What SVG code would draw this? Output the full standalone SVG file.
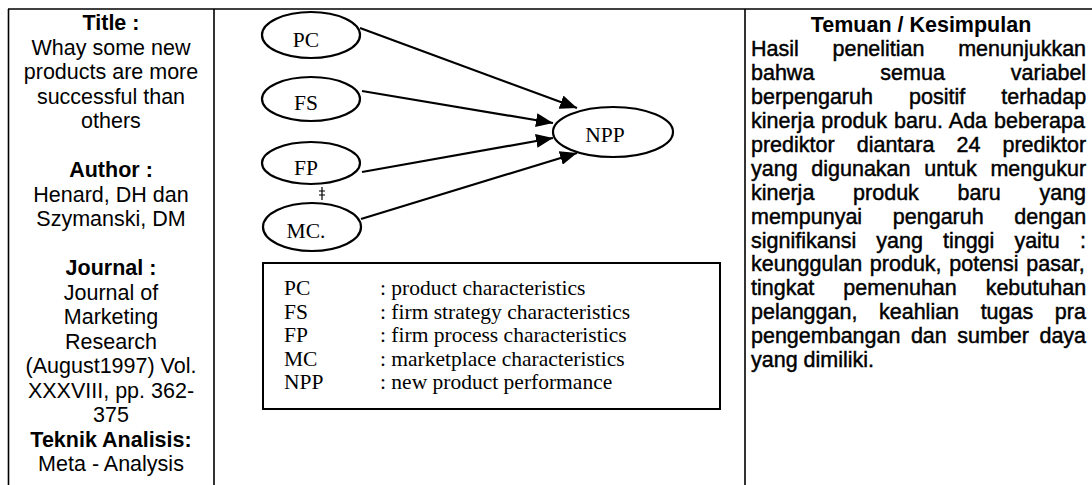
<svg xmlns="http://www.w3.org/2000/svg" width="1092" height="485" viewBox="0 0 1092 485">
  <style>
    .rule { stroke: #000; stroke-width: 1.6; fill: none; }
    .sans { font-family: "Liberation Sans", Arial, sans-serif; font-size: 21.5px; fill: #000; }
    .hd { font-weight: bold; }
    .mid { text-anchor: middle; }
    .body { font-family: "Liberation Sans", Arial, sans-serif; font-size: 21.5px; fill: #000; stroke: #000; stroke-width: 0.45; }
    .node ellipse { fill: #fff; stroke: #000; stroke-width: 2.2; }
    .serif { font-family: "Liberation Serif", "Times New Roman", serif; font-size: 21.5px; fill: #000; }
    .edge { stroke: #000; stroke-width: 2.2; fill: none; marker-end: url(#head); }
  </style>
  <defs>
    <marker id="head" markerUnits="userSpaceOnUse" markerWidth="18" markerHeight="14" refX="17" refY="7" orient="auto">
      <path d="M0,0 L17,7 L0,14 z" fill="#000"/>
    </marker>
  </defs>

  <rect width="1092" height="485" fill="#fff"/>

  <!-- table rules -->
  <g id="table">
    <line class="rule" x1="8" y1="9" x2="1092" y2="9"/>
    <line class="rule" x1="8.5" y1="9" x2="8.5" y2="485"/>
    <line class="rule" x1="214" y1="9" x2="214" y2="485"/>
    <line class="rule" x1="745" y1="9" x2="745" y2="485"/>
  </g>

  <!-- left column: study details -->
  <g id="study-info" class="sans mid">
    <text x="111" y="30" class="hd">Title :</text>
    <text x="111" y="54.5">Whay some new</text>
    <text x="111" y="79">products are more</text>
    <text x="111" y="103.5">successful than</text>
    <text x="111" y="128">others</text>
    <text x="111" y="177" class="hd">Author :</text>
    <text x="111" y="201.5">Henard, DH dan</text>
    <text x="111" y="226">Szymanski, DM</text>
    <text x="111" y="275" class="hd">Journal :</text>
    <text x="111" y="299.5">Journal of</text>
    <text x="111" y="324">Marketing</text>
    <text x="111" y="348.5">Research</text>
    <text x="111" y="373">(August1997) Vol.</text>
    <text x="111" y="397.5">XXXVIII, pp. 362-</text>
    <text x="111" y="422">375</text>
    <text x="111" y="446.5" class="hd">Teknik Analisis:</text>
    <text x="111" y="471">Meta - Analysis</text>
  </g>

  <!-- middle column: research model -->
  <g id="connectors">
    <line class="edge" x1="360" y1="28" x2="577" y2="108"/>
    <line class="edge" x1="362" y1="91" x2="553" y2="123"/>
    <line class="edge" x1="362" y1="172" x2="553" y2="138"/>
    <line class="edge" x1="361" y1="219" x2="577" y2="153"/>
    <path d="M322,187 V200 M319,191 H325 M319,195 H325" stroke="#000" stroke-width="1.2" fill="none"/>
  </g>

  <g id="node-pc" class="node">
    <ellipse cx="311" cy="35" rx="49" ry="23"/>
    <text x="306" y="47" class="serif mid">PC</text>
  </g>
  <g id="node-fs" class="node">
    <ellipse cx="311" cy="99" rx="49" ry="22"/>
    <text x="306" y="110" class="serif mid">FS</text>
  </g>
  <g id="node-fp" class="node">
    <ellipse cx="311" cy="163" rx="49" ry="21"/>
    <text x="306" y="175" class="serif mid">FP</text>
  </g>
  <g id="node-mc" class="node">
    <ellipse cx="312" cy="227" rx="49" ry="24"/>
    <text x="306" y="238" class="serif mid">MC.</text>
  </g>
  <g id="node-npp" class="node">
    <ellipse cx="613" cy="132" rx="60" ry="25"/>
    <text x="605" y="142" class="serif mid">NPP</text>
  </g>

  <!-- legend -->
  <g id="legend" class="serif">
    <rect x="263" y="263" width="457" height="146" fill="none" stroke="#000" stroke-width="2"/>
    <text x="284" y="295">PC</text>
    <text x="380" y="295">: product characteristics</text>
    <text x="284" y="318.5">FS</text>
    <text x="380" y="318.5">: firm strategy characteristics</text>
    <text x="284" y="342">FP</text>
    <text x="380" y="342">: firm process characteristics</text>
    <text x="284" y="365.5">MC</text>
    <text x="380" y="365.5">: marketplace characteristics</text>
    <text x="284" y="389">NPP</text>
    <text x="380" y="389">: new product performance</text>
  </g>

  <!-- right column: findings, justified -->
  <g id="findings">
    <text x="921" y="32" class="sans hd mid">Temuan / Kesimpulan</text>
    <g class="body">
      <text x="751" y="56" word-spacing="27.7">Hasil penelitian menunjukkan</text>
      <text x="751" y="80" word-spacing="60">bahwa semua variabel</text>
      <text x="751" y="104" word-spacing="30.1">berpengaruh positif terhadap</text>
      <text x="751" y="128" word-spacing="1">kinerja produk baru. Ada beberapa</text>
      <text x="751" y="152" word-spacing="16.1">prediktor diantara 24 prediktor</text>
      <text x="751" y="175.5" word-spacing="7.7">yang digunakan untuk mengukur</text>
      <text x="751" y="199.5" word-spacing="32.8">kinerja produk baru yang</text>
      <text x="751" y="223.5" word-spacing="24.7">mempunyai pengaruh dengan</text>
      <text x="751" y="247.5" word-spacing="14.1">signifikansi yang tinggi yaitu :</text>
      <text x="751" y="271" word-spacing="1.7">keunggulan produk, potensi pasar,</text>
      <text x="751" y="295" word-spacing="22.9">tingkat pemenuhan kebutuhan</text>
      <text x="751" y="319" word-spacing="15.6">pelanggan, keahlian tugas pra</text>
      <text x="751" y="343" word-spacing="4.5">pengembangan dan sumber daya</text>
      <text x="751" y="367">yang dimiliki.</text>
    </g>
  </g>
</svg>
